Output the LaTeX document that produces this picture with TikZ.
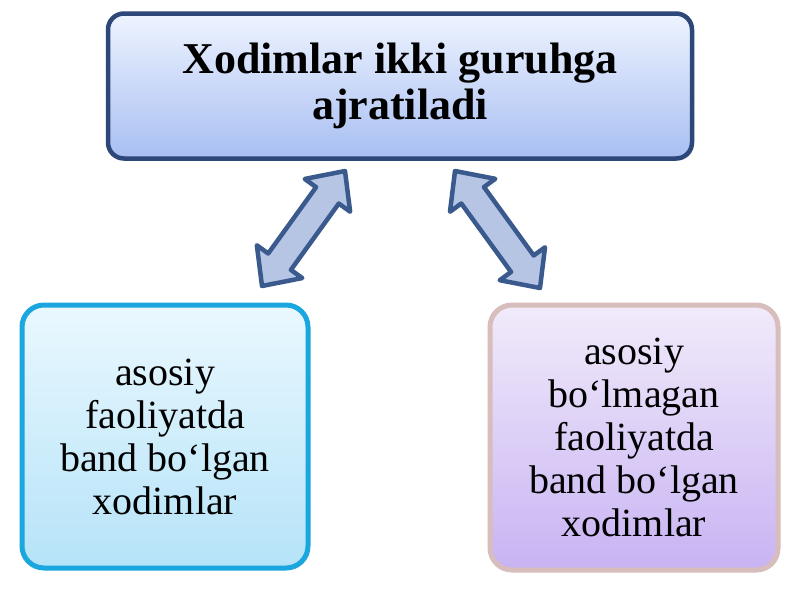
\documentclass[tikz,border=0pt]{standalone}
\usepackage{fontspec}
\setmainfont{Liberation Serif}
\usetikzlibrary{calc,shadows}
\definecolor{topborder}{HTML}{2C4778}
\definecolor{toptop}{HTML}{EEF3FF}
\definecolor{topbot}{HTML}{A8BFF2}
\definecolor{lborder}{HTML}{1AA6DE}
\definecolor{ltop}{HTML}{EAF8FE}
\definecolor{lbot}{HTML}{B5E3F8}
\definecolor{rborder}{HTML}{D8BDBD}
\definecolor{rtop}{HTML}{F1EBFA}
\definecolor{rbot}{HTML}{C8B3F3}
\definecolor{arrowborder}{HTML}{3A5A8E}
\definecolor{arrowfill}{HTML}{B7C5E4}
\newcommand\dblarrow[2]{%
  \coordinate (#1-h) at ($(#1)!30pt!(#2)$);
  \coordinate (#2-h) at ($(#2)!30pt!(#1)$);
  \draw[blockarrow] (#1) -- ($(#1-h)!28pt!90:(#2)$) -- ($(#1-h)!14pt!90:(#2)$)
    -- ($(#2-h)!14pt!-90:(#1)$) -- ($(#2-h)!28pt!-90:(#1)$) -- (#2)
    -- ($(#2-h)!28pt!90:(#1)$) -- ($(#2-h)!14pt!90:(#1)$)
    -- ($(#1-h)!14pt!-90:(#2)$) -- ($(#1-h)!28pt!-90:(#2)$) -- cycle;}
\tikzset{
  boxbase/.style={rounded corners=16pt, align=center, inner sep=0pt,
    drop shadow={opacity=0.2, shadow xshift=2pt, shadow yshift=-2pt}},
  topbox/.style={boxbase, draw=topborder, line width=4.5pt, top color=toptop, bottom color=topbot,
    minimum width=584pt, minimum height=145pt,
    font=\fontsize{44}{46}\selectfont\bfseries},
  leftbox/.style={boxbase, draw=lborder, line width=5pt, top color=ltop, bottom color=lbot,
    minimum width=286pt, minimum height=263pt, rounded corners=22pt,
    font=\fontsize{40}{43}\selectfont},
  rightbox/.style={boxbase, draw=rborder, line width=5pt, top color=rtop, bottom color=rbot,
    minimum width=288pt, minimum height=265pt, rounded corners=22pt,
    font=\fontsize{40}{43}\selectfont},
  blockarrow/.style={draw=arrowborder, line width=4.5pt, fill=arrowfill, line join=round}
}
\begin{document}
\begin{tikzpicture}[x=1pt,y=-1pt]
\useasboundingbox (0,0) rectangle (800,600);
\fill[white] (0,0) rectangle (800,600);
\node[topbox] (top) at (400,86) {Xodimlar ikki guruhga\\ajratiladi};
\node[leftbox] (left) at (165,436.5) {asosiy\\faoliyatda\\band bo‘lgan\\xodimlar};
\node[rightbox] (right) at (634,437.5) {asosiy\\bo‘lmagan\\faoliyatda\\band bo‘lgan\\xodimlar};
\coordinate (la) at (262,286);
\coordinate (lb) at (345,171);
\coordinate (ra) at (455,171);
\coordinate (rb) at (540,288);
\dblarrow{la}{lb}
\dblarrow{ra}{rb}
\end{tikzpicture}
\end{document}
